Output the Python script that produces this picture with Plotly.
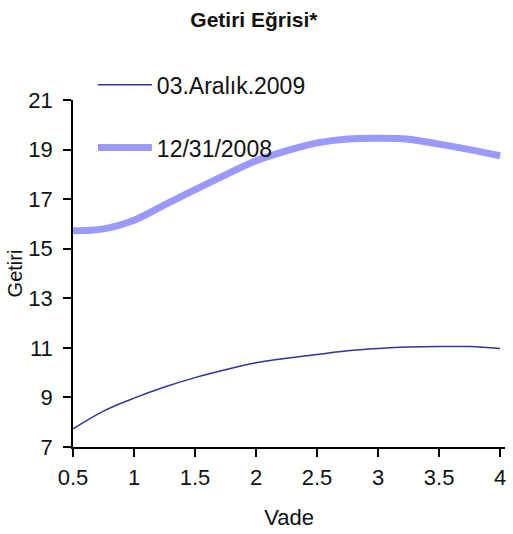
import plotly.graph_objects as go

vade = [0.5, 0.75, 1.0, 1.25, 1.5, 1.75, 2.0, 2.25, 2.5, 2.75, 3.0, 3.25, 3.5, 3.75, 4.0]
getiri_2009 = [7.73, 8.45, 8.97, 9.42, 9.80, 10.12, 10.40, 10.58, 10.73, 10.88, 10.97, 11.03, 11.05, 11.05, 10.97]
getiri_2008 = [15.72, 15.80, 16.15, 16.77, 17.38, 17.98, 18.55, 18.95, 19.27, 19.43, 19.46, 19.42, 19.22, 19.0, 18.75]
name_2009 = "03.Aralık.2009"
name_2008 = "12/31/2008"
y_ticks = [7, 9, 11, 13, 15, 17, 19, 21]
x_ticks = [0.5, 1, 1.5, 2, 2.5, 3, 3.5, 4]

font = "Liberation Sans, Arial, sans-serif"

fig = go.Figure()
fig.add_trace(go.Scatter(x=vade, y=getiri_2009, mode="lines", name=name_2009,
                         line=dict(color="#333399", width=1.5, shape="spline"),
                         legendgroup="a"))
fig.add_trace(go.Scatter(x=vade, y=getiri_2008, mode="lines", name=name_2008,
                         line=dict(color="#9999ff", width=7, shape="spline"),
                         legendgroup="b"))

fig.update_layout(
    width=513, height=534,
    margin=dict(l=73, r=8, t=100, b=87),
    paper_bgcolor="white", plot_bgcolor="white",
    font=dict(family=font, size=22, color="#111111"),
    title=dict(text="<b>Getiri Eğrisi*</b>", x=0.495, xanchor="center", y=0.963, yanchor="middle",
               font=dict(size=21, color="#111111")),
    showlegend=True,
    legend=dict(x=0.046, y=1.106, xanchor="left", yanchor="top", bgcolor="rgba(0,0,0,0)",
                tracegroupgap=30, font=dict(size=23), itemwidth=54),
    xaxis=dict(range=[0.5, 4.04], tickvals=x_ticks, ticktext=[str(v) for v in x_ticks],
               showgrid=False, zeroline=False, showline=True, linecolor="black", linewidth=1.5,
               ticks="outside", ticklen=8, tickcolor="black", tickwidth=1.5,
               ticklabelstandoff=2, tickfont=dict(size=22),
               title=dict(text="Vade", font=dict(size=22), standoff=20)),
    yaxis=dict(range=[7, 21], tickvals=y_ticks,
               showgrid=False, zeroline=False, showline=True, linecolor="black", linewidth=1.5,
               ticks="outside", ticklen=8, tickcolor="black", tickwidth=1.5,
               ticklabelstandoff=6, tickfont=dict(size=22),
               title=dict(text="Getiri", font=dict(size=20), standoff=0)),
)

fig.write_html("out.html")
